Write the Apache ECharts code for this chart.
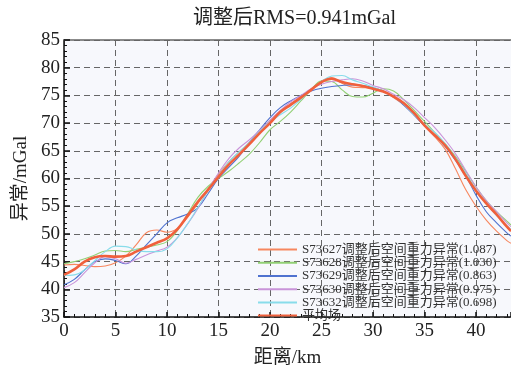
<!DOCTYPE html>
<html>
<head>
<meta charset="utf-8">
<script src="https://cdn.jsdelivr.net/npm/echarts@6/dist/echarts.min.js"></script>
</head>
<body style="margin:0">
<div id="main" style="width:511px;height:373px"></div>
<script>
// distance along profile (km)
const km = [0,1,2,3,4,5,6,7,8,9,10,11,12,13,14,15,16,17,18,19,20,21,22,23,24,25,26,27,28,29,30,31,32,33,34,35,36,37,38,39,40,41,42,43,43.4];

const names = [
  'S73627调整后空间重力异常(1.087)',
  'S73628调整后空间重力异常(1.030)',
  'S73629调整后空间重力异常(0.863)',
  'S73630调整后空间重力异常(0.975)',
  'S73632调整后空间重力异常(0.698)',
  '平均场'
];

const s73627 = [44.4,44.5,44.3,44.1,44.2,44.8,46.0,48.0,50.2,50.7,50.3,51.0,53.0,55.5,58.2,60.8,63.0,64.8,66.5,68.5,70.5,72.2,73.5,74.8,76.2,77.6,78.2,77.2,76.5,76.4,76.3,75.8,74.6,73.3,71.5,69.5,67.5,65.3,61.8,58.0,55.0,52.5,50.5,48.8,48.3];
const s73628 = [44.6,45.0,45.5,46.2,46.9,47.0,46.8,47.2,47.6,48.0,48.6,50.6,53.6,56.6,58.6,60.0,61.3,62.8,64.4,66.5,68.8,70.3,72.0,74.0,76.0,77.6,77.5,76.0,74.8,74.7,75.4,76.2,75.8,74.2,72.3,70.3,68.3,66.3,64.0,61.3,58.5,56.0,54.0,52.3,51.6];
const s73629 = [40.8,41.8,43.5,45.0,45.5,45.2,44.6,46.0,48.0,50.0,52.0,52.9,53.6,54.7,57.3,60.0,62.0,64.0,66.5,68.8,71.0,72.8,74.0,75.0,75.8,76.3,76.6,76.8,76.9,76.8,76.4,75.8,74.8,73.2,71.4,69.5,67.8,65.8,63.3,60.5,57.0,54.0,52.0,50.2,49.6];
const s73630 = [40.3,41.2,43.0,44.8,45.9,45.5,44.7,45.4,46.2,46.9,47.6,49.3,51.8,54.6,58.0,61.0,63.6,65.5,67.0,68.7,70.5,72.3,73.8,75.0,76.2,77.0,77.5,77.8,78.0,77.6,76.8,76.2,75.2,74.2,72.8,71.0,69.2,67.0,64.5,61.5,58.5,56.0,54.0,52.0,51.3];
const s73632 = [42.5,42.6,43.5,45.2,46.8,47.8,47.7,47.1,46.8,46.8,47.3,49.3,51.8,54.8,57.8,60.5,63.0,64.8,66.5,68.5,70.2,71.5,72.7,74.3,76.0,77.5,78.5,78.6,77.8,77.2,76.5,75.8,74.8,73.4,71.5,69.8,68.3,66.3,63.8,61.0,58.0,55.5,53.3,51.5,50.8];
const meanField = [42.6,43.6,45.0,45.8,46.0,45.9,46.0,46.8,47.6,48.4,49.2,50.8,53.3,55.8,58.0,60.3,62.5,64.3,66.2,68.2,70.0,72.0,73.3,74.6,76.0,77.4,78.0,77.4,77.0,76.7,76.2,75.7,74.8,73.6,71.8,69.6,67.8,66.0,63.5,60.5,57.8,55.5,53.5,51.3,50.5];

const colors = ['#f7875f','#92d074','#4f72cf','#c994d9','#88dcea','#f0603c'];
const allSeries = [s73627, s73628, s73629, s73630, s73632, meanField];

const serif = '"Liberation Serif", "Noto Sans CJK SC", serif';

const chart = echarts.init(document.getElementById('main'));

const series = allSeries.map((vals, i) => ({
  name: names[i],
  type: 'line',
  smooth: 0.4,
  showSymbol: false,
  data: km.map((k, j) => [k, vals[j]]),
  lineStyle: { width: i === 5 ? 2.6 : 1.1, color: colors[i] },
  itemStyle: { color: colors[i] },
  z: i === 5 ? 5 : 3
}));

chart.setOption({
  backgroundColor: '#fff',
  animation: false,
  title: {
    text: '调整后RMS=0.941mGal',
    left: 188, top: 4,
    textStyle: { fontFamily: serif, fontSize: 20, fontWeight: 'normal', color: '#222' }
  },
  legend: {
    orient: 'vertical',
    left: 253, top: 238,
    icon: 'rect',
    itemWidth: 39, itemHeight: 2,
    itemGap: 0,
    textStyle: { fontFamily: serif, fontSize: 13, color: '#333', lineHeight: 13.2 },
    data: names
  },
  grid: { left: 64, right: 0, top: 40, bottom: 48, show: true, backgroundColor: '#f7f8fc', borderWidth: 0 },
  xAxis: [{
    type: 'value', min: 0, max: 43.4, interval: 5,
    name: '距离/km', nameLocation: 'middle', nameGap: 32,
    nameTextStyle: { fontFamily: serif, fontSize: 19, color: '#222' },
    axisLine: { show: true, onZero: false, lineStyle: { color: '#111', width: 1.5 } },
    axisTick: { show: true, inside: true, length: 5, lineStyle: { color: '#111', width: 1.5 } },
    minorTick: { show: true, splitNumber: 5, length: 3, lineStyle: { color: '#111' } },
    axisLabel: { fontFamily: serif, fontSize: 19, color: '#222', margin: 5, showMaxLabel: false },
    splitLine: { show: true, lineStyle: { color: '#666', type: [6, 4], width: 1 } }
  }, {
    type: 'value', min: 0, max: 43.4, position: 'top',
    axisLine: { show: true, lineStyle: { color: '#666', width: 1.5 } },
    axisTick: { show: false }, minorTick: { show: false },
    axisLabel: { show: false }, splitLine: { show: false }
  }],
  yAxis: {
    type: 'value', min: 35, max: 85, interval: 5,
    name: '异常/mGal', nameLocation: 'middle', nameGap: 28,
    nameTextStyle: { fontFamily: serif, fontSize: 19, color: '#222' },
    axisLine: { show: true, onZero: false, lineStyle: { color: '#111', width: 1.5 } },
    axisTick: { show: true, inside: true, length: 6, lineStyle: { color: '#111', width: 1.5 } },
    minorTick: { show: true, splitNumber: 5, length: 3, lineStyle: { color: '#111' } },
    axisLabel: { fontFamily: serif, fontSize: 19, color: '#222', margin: 4 },
    splitLine: { show: true, lineStyle: { color: '#666', type: [6, 4], width: 1 } }
  },
  series: series
});
</script>
</body>
</html>
